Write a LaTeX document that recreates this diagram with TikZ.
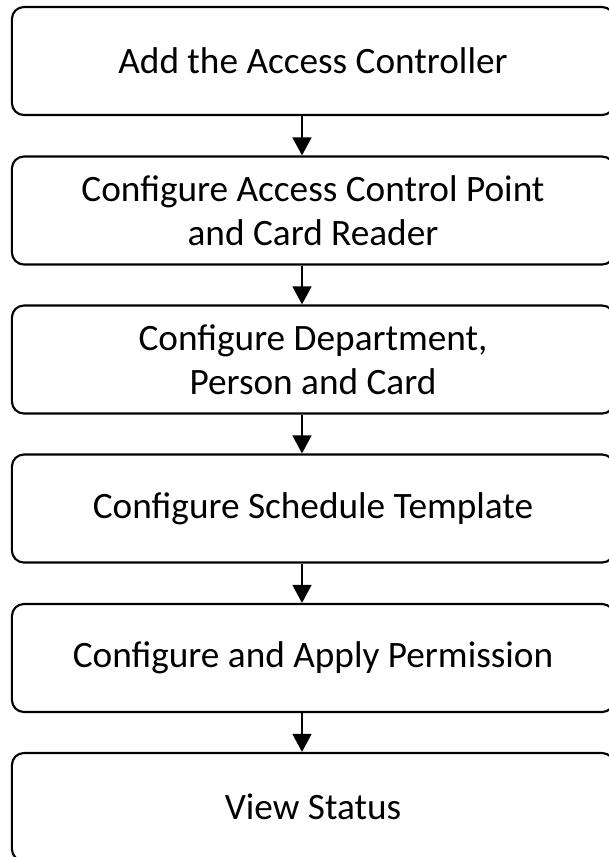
\documentclass[tikz,border=0pt]{standalone}
\usepackage{fontspec}
\setmainfont{Carlito}
\usetikzlibrary{arrows.meta}

\begin{document}
\begin{tikzpicture}[x=0.025cm, y=-0.025cm,
        stepbox/.style={draw, rectangle, rounded corners=0.3cm, line width=1.5pt,
            minimum width=15.05cm, minimum height=2.7cm, align=center,
            font=\fontsize{26.5}{31}\selectfont},
        flow/.style={-{Triangle[width=0.47cm, length=0.45cm]}, line width=1.5pt}]
        \clip (0,0) rectangle (609,857);

        \node (s1) at (313,  61.0) [stepbox] {Add the Access Controller};
        \node (s2) at (313, 210.5) [stepbox] {Configure Access Control Point\\and Card Reader};
        \node (s3) at (313, 359.5) [stepbox] {Configure Department,\\Person and Card};
        \node (s4) at (313, 508.5) [stepbox] {Configure Schedule Template};
        \node (s5) at (313, 658.0) [stepbox] {Configure and Apply Permission};
        \node (s6) at (313, 807.0) [stepbox] {View Status};

        \coordinate (ax) at (302, 0);

        \draw[flow] (s1.south -| ax) -- (s2.north -| ax);
        \draw[flow] (s2.south -| ax) -- (s3.north -| ax);
        \draw[flow] (s3.south -| ax) -- (s4.north -| ax);
        \draw[flow] (s4.south -| ax) -- (s5.north -| ax);
        \draw[flow] (s5.south -| ax) -- (s6.north -| ax);
    \end{tikzpicture}
\end{document}
